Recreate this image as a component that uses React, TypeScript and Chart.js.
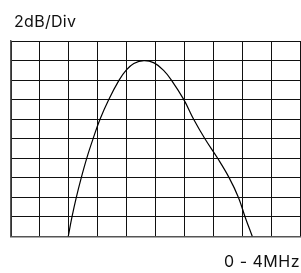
import React, { useEffect, useRef } from "react";
import { Chart, registerables } from "chart.js";

Chart.register(...registerables);

const titleText = "2dB/Div";
const rangeText = "0 - 4MHz";
const xDiv = [1.98, 2.11, 2.26, 2.43, 2.62, 2.84, 3.08, 3.38, 3.74, 3.98, 4.25, 4.6, 4.95, 5.28, 5.55, 5.98, 6.32, 6.71, 7.15, 7.55, 7.87, 8.1, 8.35];
const yDiv = [0, 1, 2, 3, 4, 5, 6, 7, 8, 8.5, 8.85, 9.0, 8.88, 8.5, 8.0, 7.0, 6.0, 5.0, 4.0, 3.0, 2.0, 1.0, 0];
const divisions = 10;

export default function App() {
  const ref = useRef<HTMLCanvasElement | null>(null);
  useEffect(() => {
    document.body.style.margin = "0";
    const canvas = ref.current;
    if (!canvas) return;
    const chart = new Chart(canvas, {
      type: "line",
      data: {
        datasets: [
          {
            data: xDiv.map((x, i) => ({ x, y: yDiv[i] })),
            borderColor: "#000",
            borderWidth: 1.2,
            pointRadius: 0,
            tension: 0.4,
            fill: false,
          },
        ],
      },
      options: {
        animation: false,
        responsive: false,
        layout: { padding: { left: 11, right: 1, top: 41, bottom: 36.5 } },
        plugins: { legend: { display: false }, tooltip: { enabled: false } },
        scales: {
          x: {
            type: "linear",
            min: 0,
            max: divisions,
            ticks: { display: false, stepSize: 1 },
            grid: { color: "#111", lineWidth: 1, drawTicks: false },
            border: { color: "#555", width: 1.5 },
          },
          y: {
            min: 0,
            max: divisions,
            ticks: { display: false, stepSize: 1 },
            grid: { color: "#111", lineWidth: 1, drawTicks: false },
            border: { color: "#555", width: 1.5 },
          },
        },
      },
    });
    return () => chart.destroy();
  }, []);
  const font = "Inter, 'Noto Sans', sans-serif";
  return (
    <div style={{ position: "fixed", left: 0, top: 0, width: 301, height: 273, background: "#fff" }}>
      <canvas ref={ref} width={301} height={273} style={{ position: "absolute", left: 0, top: 0 }} />
      <div style={{ position: "absolute", left: 14, top: 13, fontFamily: font, fontSize: 16, lineHeight: 1, letterSpacing: 0.3, color: "#111" }}>{titleText}</div>
      <div style={{ position: "absolute", right: 1, top: 253, fontFamily: font, fontSize: 16, lineHeight: 1, letterSpacing: 0.5, color: "#111" }}>{rangeText}</div>
    </div>
  );
}
